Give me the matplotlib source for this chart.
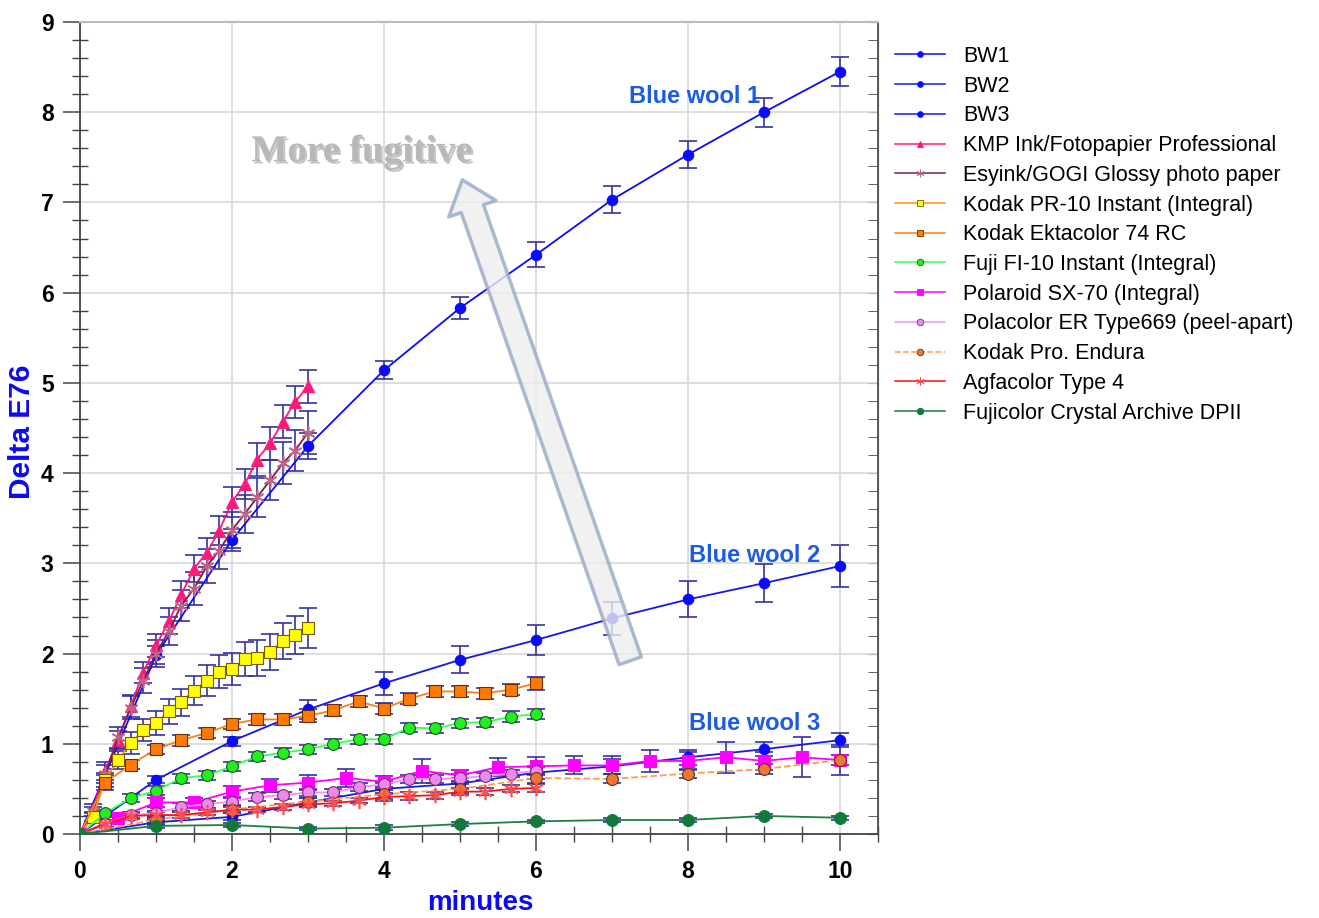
import matplotlib
matplotlib.use("Agg")
import matplotlib.pyplot as plt
import matplotlib.patheffects as pe
from matplotlib.patches import FancyArrowPatch, ArrowStyle
from matplotlib.lines import Line2D
from matplotlib.ticker import MultipleLocator

plt.rcParams['font.family'] = ['Liberation Sans', 'DejaVu Sans']

# ---- exposure times (minutes) ----
t_min = [0, 1, 2, 3, 4, 5, 6, 7, 8, 9, 10]
t_10s = [0, 0.17, 0.33, 0.5, 0.67, 0.83, 1.0, 1.17, 1.33, 1.5, 1.67, 1.83,
         2.0, 2.17, 2.33, 2.5, 2.67, 2.83, 3.0]
t_20s = [0, 0.33, 0.67, 1.0, 1.33, 1.67, 2.0, 2.33, 2.67, 3.0, 3.33, 3.67,
         4.0, 4.33, 4.67, 5.0, 5.33, 5.67, 6.0]
t_30s = [0, 0.5, 1.0, 1.5, 2.0, 2.5, 3.0, 3.5, 4.0, 4.5, 5.0, 5.5, 6.0,
         6.5, 7.0, 7.5, 8.0, 8.5, 9.0, 9.5, 10.0]

# ---- blue wool references ----
bw1 = [0, 1.98, 3.26, 4.30, 5.14, 5.83, 6.42, 7.03, 7.53, 8.00, 8.45]
bw1_err = [0, 0.10, 0.12, 0.14, 0.10, 0.12, 0.14, 0.15, 0.15, 0.16, 0.16]
bw2 = [0, 0.60, 1.03, 1.38, 1.67, 1.93, 2.15, 2.39, 2.60, 2.78, 2.97]
bw2_err = [0, 0.04, 0.05, 0.10, 0.13, 0.15, 0.17, 0.18, 0.20, 0.21, 0.23]
bw3 = [0, 0.13, 0.19, 0.35, 0.50, 0.56, 0.68, 0.75, 0.85, 0.94, 1.04]
bw3_err = [0, 0.03, 0.04, 0.05, 0.06, 0.06, 0.07, 0.08, 0.08, 0.08, 0.08]

# ---- prints ----
kmp = [0, 0.28, 0.70, 1.04, 1.42, 1.79, 2.09, 2.36, 2.65, 2.94, 3.12, 3.36,
       3.68, 3.88, 4.15, 4.33, 4.57, 4.79, 4.96]
kmp_err = [0, 0.05, 0.10, 0.10, 0.12, 0.12, 0.13, 0.14, 0.15, 0.15, 0.16,
           0.16, 0.17, 0.17, 0.18, 0.18, 0.18, 0.18, 0.18]
esyink = [0, 0.25, 0.66, 1.07, 1.40, 1.70, 2.00, 2.25, 2.53, 2.72, 2.97, 3.14,
          3.37, 3.55, 3.73, 3.92, 4.11, 4.25, 4.45]
esyink_err = [0, 0.05, 0.10, 0.12, 0.13, 0.14, 0.15, 0.16, 0.17, 0.18, 0.19,
              0.20, 0.20, 0.21, 0.22, 0.22, 0.23, 0.23, 0.24]
pr10 = [0, 0.19, 0.60, 0.82, 1.01, 1.15, 1.23, 1.36, 1.46, 1.59, 1.70, 1.80,
        1.83, 1.94, 1.95, 2.02, 2.14, 2.21, 2.28]
pr10_err = [0, 0.05, 0.08, 0.10, 0.12, 0.12, 0.13, 0.14, 0.15, 0.16, 0.17,
            0.18, 0.18, 0.19, 0.20, 0.20, 0.20, 0.21, 0.22]
ekta = [0, 0.57, 0.77, 0.94, 1.04, 1.12, 1.22, 1.27, 1.27, 1.31, 1.37, 1.47,
        1.39, 1.50, 1.58, 1.58, 1.56, 1.60, 1.67]
ekta_err = [0, 0.08, 0.05, 0.05, 0.06, 0.06, 0.06, 0.06, 0.06, 0.07, 0.06,
            0.06, 0.06, 0.06, 0.06, 0.06, 0.06, 0.06, 0.07]
fi10 = [0, 0.23, 0.40, 0.48, 0.62, 0.65, 0.75, 0.86, 0.90, 0.94, 1.00, 1.05,
        1.05, 1.18, 1.17, 1.23, 1.24, 1.30, 1.33]
fi10_err = [0, 0.04, 0.04, 0.05, 0.05, 0.05, 0.05, 0.05, 0.05, 0.05, 0.05,
            0.05, 0.05, 0.05, 0.05, 0.05, 0.05, 0.06, 0.06]
sx70 = [0, 0.18, 0.35, 0.35, 0.47, 0.54, 0.57, 0.62, 0.58, 0.70, 0.65, 0.74,
        0.75, 0.76, 0.76, 0.81, 0.81, 0.85, 0.81, 0.85, 0.82]
sx70_err = [0, 0.03, 0.05, 0.05, 0.06, 0.07, 0.08, 0.10, 0.06, 0.13, 0.06,
            0.10, 0.10, 0.10, 0.10, 0.12, 0.10, 0.17, 0.10, 0.22, 0.17]
pola669 = [0, 0.11, 0.21, 0.23, 0.30, 0.33, 0.36, 0.41, 0.43, 0.46, 0.46, 0.52,
           0.55, 0.61, 0.61, 0.62, 0.64, 0.67, 0.70]
pola669_err = [0, 0.03, 0.03, 0.03, 0.04, 0.04, 0.04, 0.04, 0.04, 0.04, 0.04,
               0.04, 0.04, 0.04, 0.04, 0.04, 0.04, 0.04, 0.04]
endura = [0, 0.16, 0.27, 0.36, 0.44, 0.50, 0.62, 0.61, 0.67, 0.72, 0.82]
endura_err = [0, 0.03, 0.04, 0.04, 0.05, 0.05, 0.05, 0.05, 0.05, 0.06, 0.06]
agfa = [0, 0.11, 0.20, 0.21, 0.21, 0.24, 0.27, 0.27, 0.30, 0.33, 0.34, 0.37,
        0.41, 0.42, 0.43, 0.47, 0.47, 0.50, 0.51]
agfa_err = [0, 0.03, 0.03, 0.03, 0.03, 0.03, 0.03, 0.03, 0.03, 0.03, 0.03,
            0.03, 0.04, 0.04, 0.04, 0.04, 0.04, 0.04, 0.04]
crystal = [0, 0.09, 0.10, 0.06, 0.07, 0.11, 0.14, 0.155, 0.155, 0.20, 0.18]
crystal_err = [0, 0.02, 0.02, 0.02, 0.03, 0.02, 0.02, 0.02, 0.02, 0.02, 0.02]

STAR = (6, 2, 0)  # six-armed asterisk marker

# label, x, y, err, line colour, marker, marker face, marker edge, size, linestyle
series = [
    ("BW1", t_min, bw1, bw1_err, "#0a0aff", "o", "#0a0aff", "#0a0aff", 7.5, "-"),
    ("BW2", t_min, bw2, bw2_err, "#1515f0", "o", "#0a0aff", "#0a0aff", 7.5, "-"),
    ("BW3", t_min, bw3, bw3_err, "#1a1ae6", "o", "#0a0aff", "#0a0aff", 7.5, "-"),
    ("KMP Ink/Fotopapier Professional", t_10s, kmp, kmp_err,
     "#ff1a7a", "^", "#ff1a7a", "#ff1a7a", 9, "-"),
    ("Esyink/GOGI Glossy photo paper", t_10s, esyink, esyink_err,
     "#7d1f4f", STAR, "#d07090", "#c06585", 10, "-"),
    ("Kodak PR-10 Instant (Integral)", t_10s, pr10, pr10_err,
     "#ff8c1a", "s", "#ffff00", "#7a5a00", 8.5, "-"),
    ("Kodak Ektacolor 74 RC", t_20s, ekta, ekta_err,
     "#ff7f10", "s", "#ff7a00", "#6a3000", 8.5, "-"),
    ("Fuji FI-10 Instant (Integral)", t_20s, fi10, fi10_err,
     "#33ff55", "o", "#22ee22", "#1a5a1a", 8.5, "-"),
    ("Polaroid SX-70 (Integral)", t_30s, sx70, sx70_err,
     "#ff00ff", "s", "#ff00ff", "#ff00ff", 8.5, "-"),
    ("Polacolor ER Type669 (peel-apart)", t_20s, pola669, pola669_err,
     "#ff88ff", "o", "#ee88ee", "#6a3a6a", 8.5, "-"),
    ("Kodak Pro. Endura", t_min, endura, endura_err,
     "#ff9955", "o", "#ee7733", "#6a3010", 8.5, "--"),
    ("Agfacolor Type 4", t_20s, agfa, agfa_err,
     "#ff1010", STAR, "#ff5555", "#ff5050", 11, "-"),
    ("Fujicolor Crystal Archive DPII", t_min, crystal, crystal_err,
     "#1a8040", "o", "#117a3a", "#117a3a", 8.5, "-"),
]

fig = plt.figure(figsize=(13.19, 9.18), dpi=100)
ax = fig.add_axes([80 / 1319, 84 / 918, 798 / 1319, 812 / 918])

err_color = "#34349e"
handles = []
for i, (lab, xs, ys, es, lc, mk, mf, me, ms, ls) in enumerate(series):
    ax.errorbar(xs, ys, yerr=es, fmt="none", ecolor=err_color, elinewidth=1.2,
                capsize=6.5, capthick=1.2, zorder=3)
    mew = 1.2 if mk == STAR else 0.8
    ax.plot(xs, ys, color=lc, lw=1.3, ls=ls, marker=mk, markersize=ms,
            markerfacecolor=mf, markeredgecolor=me, markeredgewidth=mew,
            zorder=4 + i * 0.01)
    handles.append(Line2D([0], [0], color=lc, lw=1.1, ls=ls, marker=mk,
                          markersize=ms * 0.55, markerfacecolor=mf,
                          markeredgecolor=me, markeredgewidth=0.6,
                          label=lab))

# axes ranges, ticks and grid
ax.set_xlim(0, 10.5)
ax.set_ylim(0, 9)
ax.xaxis.set_major_locator(MultipleLocator(2))
ax.xaxis.set_minor_locator(MultipleLocator(0.5))
ax.yaxis.set_major_locator(MultipleLocator(1))
ax.yaxis.set_minor_locator(MultipleLocator(0.2))
ax.grid(True, which="major", color="#d8d8d8", lw=1.2, zorder=0)
ax.set_axisbelow(True)
ax.tick_params(which="major", direction="out", length=12, width=1.1,
               color="#444444", labelsize=16.5, pad=7)
ax.tick_params(which="minor", direction="inout", length=12, width=1.0,
               color="#444444")
for lbl in ax.get_xticklabels() + ax.get_yticklabels():
    lbl.set_fontweight("bold")
for side in ("left", "bottom"):
    ax.spines[side].set_color("#444444")
    ax.spines[side].set_linewidth(1.3)
ax.spines["top"].set_color("#bbbbbb")
ax.spines["top"].set_linewidth(1.5)
ax.spines["right"].set_color("#555555")
ax.spines["right"].set_linewidth(1.3)

sec = ax.secondary_yaxis("right")
sec.yaxis.set_major_locator(MultipleLocator(1))
sec.yaxis.set_minor_locator(MultipleLocator(0.2))
sec.tick_params(which="both", direction="in", length=7, color="#444444",
                labelright=False)
sec.spines["right"].set_color("#555555")

# axis titles
fig.text(22 / 1319, 1 - 432 / 918, "Delta E76", rotation=90, ha="center",
         va="center", fontsize=21.5, fontweight="bold", color="#0a0af5")
fig.text(480 / 1319, 1 - 903 / 918, "minutes", ha="center", va="center",
         fontsize=20, fontweight="bold", color="#0a0af5")

# blue wool labels
wool_color = "#1a5ce6"
ax.text(8.09, 8.17, "Blue wool 1", ha="center", va="center", fontsize=17,
        fontweight="bold", color=wool_color, zorder=6)
ax.text(8.88, 3.09, "Blue wool 2", ha="center", va="center", fontsize=17,
        fontweight="bold", color=wool_color, zorder=6)
ax.text(8.88, 1.22, "Blue wool 3", ha="center", va="center", fontsize=17,
        fontweight="bold", color=wool_color, zorder=6)

# "More fugitive" arrow
arrow = FancyArrowPatch((7.24, 1.92), (5.03, 7.25),
                        arrowstyle=ArrowStyle.Simple(head_length=1.1,
                                                     head_width=1.8,
                                                     tail_width=0.85),
                        mutation_scale=20, shrinkA=0, shrinkB=0,
                        fc="#eeeeee", ec="#98a8c8", lw=2.5, alpha=0.8,
                        zorder=7)
ax.add_patch(arrow)
ax.text(3.71, 7.56, "More fugitive", ha="center", va="center",
        fontsize=27.5, fontweight="bold", family="Liberation Serif",
        color="#b8b8b8", zorder=8,
        path_effects=[pe.SimplePatchShadow(offset=(1.5, -1.5),
                                           shadow_rgbFace="#8a8a8a",
                                           alpha=0.5),
                      pe.Normal()])

fig.legend(handles=handles, loc="upper left",
           bbox_to_anchor=(895 / 1319, 1 - 46 / 918), frameon=False,
           fontsize=15.5, handlelength=2.3, handletextpad=0.85,
           labelspacing=0.405, borderpad=0, borderaxespad=0)

fig.savefig("out.png", dpi=100)
